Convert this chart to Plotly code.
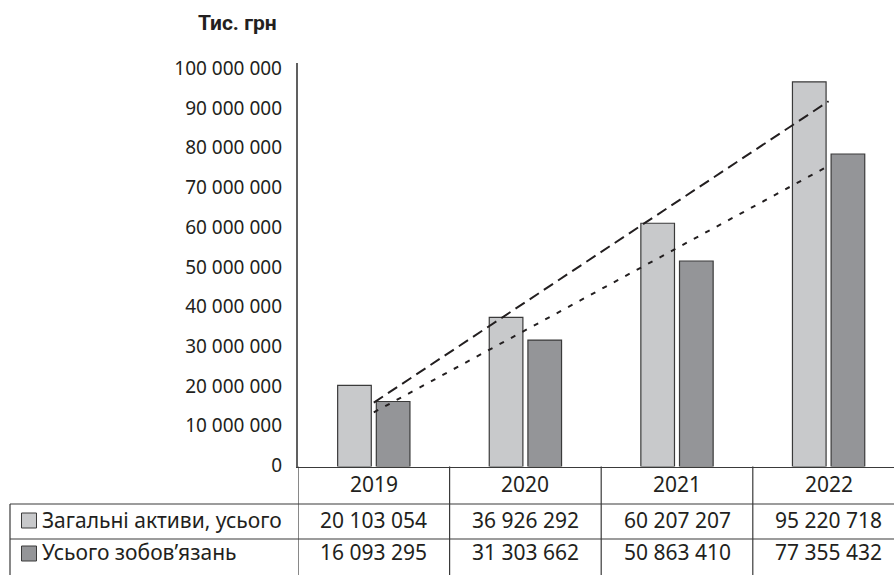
import numpy as np
import plotly.graph_objects as go

W, H = 894, 575

# ---- data ----
years = ["2019", "2020", "2021", "2022"]
assets = [20103054, 36926292, 60207207, 95220718]
liabilities = [16093295, 31303662, 50863410, 77355432]
series_names = ["Загальні активи, усього", "Усього зобов’язань"]
y_title = "Тис. грн"
y_max = 100_000_000
y_step = 10_000_000

# ---- styles ----
TXT = "#231f20"
LINE = "#3a3a3a"
C_LIGHT = "#c8c9cb"
C_DARK = "#949598"
FONT = "Noto Sans"


def px(x):
    return x / W


def py(y):
    return 1 - y / H


def fmt(v):
    return f"{v:,}".replace(",", " ")


xpos = list(range(len(years)))
col_w = 151.6  # pixel width of one category column
left_px = 298
plot_top, plot_bot = 62.5, 466.5

fig = go.Figure()
series = [assets, liabilities]
colors = [C_LIGHT, C_DARK]
for name, vals, col in zip(series_names, series, colors):
    fig.add_trace(go.Bar(
        x=xpos, y=vals, name=name,
        marker=dict(color=col, line=dict(color=LINE, width=1.2)),
        showlegend=False, hoverinfo="skip",
    ))

# linear trend lines (derived from the data)
dashes = ["11px,6px", "5px,8px"]
for vals, d in zip(series, dashes):
    k, b = np.polyfit(xpos, vals, 1)
    xs = [xpos[0], xpos[-1]]
    fig.add_trace(go.Scatter(
        x=xs, y=[k * x + b for x in xs], mode="lines",
        line=dict(color=TXT, width=2, dash=d),
        showlegend=False, hoverinfo="skip",
    ))

# invisible trace so the label axis is drawn
fig.add_trace(go.Scatter(x=[xpos[0]], y=[0], yaxis="y2", mode="markers",
                         marker=dict(opacity=0), showlegend=False, hoverinfo="skip"))

shapes = []
annotations = []

# table grid
top_y, r1_y, r2_y, bot_y = plot_bot, 504, 539, 580
for yy in (r1_y, r2_y):
    shapes.append(dict(type="line", xref="paper", yref="paper",
                       x0=px(10), x1=1, y0=py(yy), y1=py(yy),
                       line=dict(color=LINE, width=1.2)))
shapes.append(dict(type="line", xref="paper", yref="paper",
                   x0=px(10), x1=px(10), y0=py(r1_y), y1=py(bot_y),
                   line=dict(color=LINE, width=1.2)))
for i in range(len(years)):
    shapes.append(dict(type="line", xref="x", yref="paper",
                       x0=i - 0.5, x1=i - 0.5, y0=py(top_y), y1=py(bot_y),
                       line=dict(color=LINE, width=1.2)))

TS = 21
row_centers = [484, 520, 552]
for i, yr in enumerate(years):
    annotations.append(dict(x=i, y=py(row_centers[0]), xref="x", yref="paper",
                            text=yr, showarrow=False, xanchor="center", yanchor="middle",
                            font=dict(family=FONT, size=TS, color=TXT)))
    for r, vals in enumerate(series):
        annotations.append(dict(x=i, y=py(row_centers[r + 1]), xref="x", yref="paper",
                                text=fmt(vals[i]), showarrow=False,
                                xanchor="center", yanchor="middle",
                                font=dict(family=FONT, size=TS, color=TXT)))

# legend keys and row labels
sq_centers = [520.5, 553.5]
for r, (name, col) in enumerate(zip(series_names, colors)):
    shapes.append(dict(type="rect", xref="paper", yref="paper",
                       x0=px(21.5), x1=px(36.5),
                       y0=py(sq_centers[r] + 7.5), y1=py(sq_centers[r] - 7.5),
                       fillcolor=col, line=dict(color=LINE, width=1)))
    annotations.append(dict(x=px(40), y=py(row_centers[r + 1]), xref="paper", yref="paper",
                            text=name, showarrow=False, xanchor="left", yanchor="middle",
                            font=dict(family=FONT, size=TS, color=TXT)))

# axis title
annotations.append(dict(x=px(279), y=py(23), xref="paper", yref="paper",
                        text=f"<b>{y_title}</b>", showarrow=False,
                        xanchor="right", yanchor="middle",
                        font=dict(family="Roboto", size=21, color=TXT)))

# tick labels in the reference sit on a slightly tighter spacing than the bars
lab_px_per_unit = (467.5 - 68.3) / y_max
lab_lo = -(467.5 - plot_bot) / lab_px_per_unit
lab_hi = (467.5 - plot_top) / lab_px_per_unit

fig.update_layout(
    width=W, height=H,
    margin=dict(l=0, r=0, t=0, b=0, pad=0, autoexpand=False),
    paper_bgcolor="white", plot_bgcolor="white",
    barmode="group", bargap=0.49, bargroupgap=0.13,
    separators=". ",
    font=dict(family=FONT, size=19, color=TXT),
    xaxis=dict(domain=[px(left_px), 1],
               range=[-0.5, -0.5 + (W - left_px) / col_w],
               automargin=False,
               showticklabels=False, ticks="", showgrid=False, zeroline=False,
               showline=True, linecolor=LINE, linewidth=1.2),
    yaxis=dict(domain=[py(plot_bot), py(plot_top)], range=[0, y_max],
               automargin=False, showticklabels=False,
               showgrid=False, zeroline=False, ticks="",
               showline=True, linecolor="#606060", linewidth=1.5),
    yaxis2=dict(overlaying="y", side="left", anchor="x",
                range=[lab_lo, lab_hi], automargin=False,
                tickmode="linear", dtick=y_step, tick0=0, tickformat=",d",
                showgrid=False, zeroline=False, ticks="", showline=False,
                ticklabelstandoff=15,
                tickfont=dict(family=FONT, size=19, color=TXT)),
    shapes=shapes,
    annotations=annotations,
)

fig.write_html(
    "out.html",
    config={"displayModeBar": False},
    post_script="document.body.style.margin='0';document.body.style.overflow='hidden';",
)
